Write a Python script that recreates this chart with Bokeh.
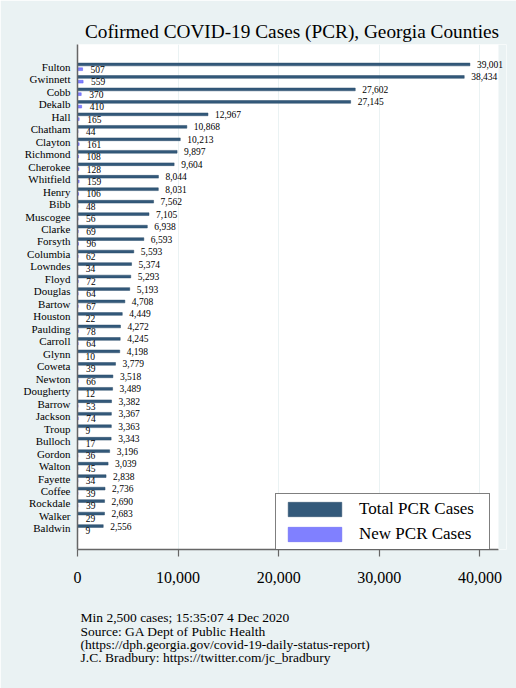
from bokeh.plotting import figure
from bokeh.models import (ColumnDataSource, Range1d, FixedTicker, NumeralTickFormatter, Title,
                          Legend, LabelSet, BoxAnnotation)
from bokeh.transform import dodge
from bokeh.embed import file_html
from bokeh.resources import INLINE

counties = ["Fulton", "Gwinnett", "Cobb", "Dekalb", "Hall", "Chatham", "Clayton", "Richmond",
            "Cherokee", "Whitfield", "Henry", "Bibb", "Muscogee", "Clarke", "Forsyth", "Columbia",
            "Lowndes", "Floyd", "Douglas", "Bartow", "Houston", "Paulding", "Carroll", "Glynn",
            "Coweta", "Newton", "Dougherty", "Barrow", "Jackson", "Troup", "Bulloch", "Gordon",
            "Walton", "Fayette", "Coffee", "Rockdale", "Walker", "Baldwin"]
total_cases = [39001, 38434, 27602, 27145, 12967, 10868, 10213, 9897,
               9604, 8044, 8031, 7562, 7105, 6938, 6593, 5593,
               5374, 5293, 5193, 4708, 4449, 4272, 4245, 4198,
               3779, 3518, 3489, 3382, 3367, 3363, 3343, 3196,
               3039, 2838, 2736, 2690, 2683, 2556]
new_cases = [507, 559, 370, 410, 165, 44, 161, 108,
             128, 159, 106, 48, 56, 69, 96, 62,
             34, 72, 64, 67, 22, 78, 64, 10,
             39, 66, 12, 53, 74, 9, 17, 36,
             45, 34, 39, 39, 29, 9]
x_ticks = [0, 10000, 20000, 30000, 40000]

title_text = "Cofirmed COVID-19 Cases (PCR), Georgia Counties"
footer_lines = ["Min 2,500 cases; 15:35:07   4 Dec 2020",
                "Source: GA Dept of Public Health",
                "(https://dph.georgia.gov/covid-19-daily-status-report)",
                "J.C. Bradbury: https://twitter.com/jc_bradbury"]

FONT = "Liberation Serif"
BG = "#EAF2F3"
NAVY = "#33597A"
NAVY_LINE = "#2A4D6A"
BLUE = "#8080FF"
BLUE_LINE = "#5A5AF0"

X_PLOT_END = 41840      # end of the white plot region
X_VIEW_END = 42635      # a little room for value labels outside the plot region

n = len(counties)
src = ColumnDataSource(dict(
    idx=list(range(n)),
    total=total_cases,
    new=new_cases,
    total_lbl=[f"{v:,}" for v in total_cases],
    new_lbl=[f"{v:,}" for v in new_cases],
))

p = figure(width=516, height=688, output_backend="svg", toolbar_location=None,
           x_range=Range1d(0, X_VIEW_END), y_range=Range1d(n - 1 + 1.69, -1.79),
           background_fill_color="white", border_fill_color=BG)
p.min_border_left = 77
p.min_border_right = 10
p.min_border_top = 44
p.min_border_bottom = 135
p.outline_line_color = None

r_total = p.hbar(y=dodge("idx", -0.19, range=p.y_range), right="total", left=0, height=0.22,
                 source=src, fill_color=NAVY, line_color=NAVY_LINE, line_width=0.5)
r_new = p.hbar(y=dodge("idx", 0.19, range=p.y_range), right="new", left=0, height=0.22,
               source=src, fill_color=BLUE, line_color=BLUE_LINE, line_width=0.5)

# background strip beyond the plot region (so labels can overflow like the original)
p.add_layout(BoxAnnotation(left=X_PLOT_END, fill_color=BG, fill_alpha=1, line_color=None))

lbl_total = LabelSet(x="total", y=dodge("idx", -0.19, range=p.y_range), text="total_lbl",
                     source=src, x_offset=7, text_baseline="middle", text_align="left",
                     text_font=FONT, text_font_size="9.5px", text_color="black")
lbl_new = LabelSet(x="new", y=dodge("idx", 0.19, range=p.y_range), text="new_lbl",
                   source=src, x_offset=8, text_baseline="middle", text_align="left",
                   text_font=FONT, text_font_size="9.5px", text_color="black")
p.add_layout(lbl_total)
p.add_layout(lbl_new)

# axes
xa = p.xaxis[0]
xa.ticker = FixedTicker(ticks=x_ticks)
xa.formatter = NumeralTickFormatter(format="0,0")
xa.bounds = (0, X_PLOT_END)
xa.major_label_text_font = FONT
xa.major_label_text_font_size = "16px"
xa.major_label_text_color = "black"
xa.major_tick_out = 7
xa.major_tick_in = 0
xa.minor_tick_out = 0
xa.minor_tick_in = 0
xa.major_label_standoff = 15
xa.axis_line_color = "#666666"
xa.axis_line_width = 1.5
xa.major_tick_line_color = "#666666"
xa.major_tick_line_width = 1.2

ya = p.yaxis[0]
ya.ticker = FixedTicker(ticks=list(range(n)))
ya.major_label_overrides = {i: c for i, c in enumerate(counties)}
ya.major_label_text_font = FONT
ya.major_label_text_font_size = "11px"
ya.major_label_text_color = "black"
ya.major_tick_out = 0
ya.major_tick_in = 0
ya.minor_tick_out = 0
ya.minor_tick_in = 0
ya.major_label_standoff = 7
ya.axis_line_color = "#666666"
ya.axis_line_width = 1.5

p.xgrid.grid_line_color = BG
p.xgrid.grid_line_width = 1
p.ygrid.grid_line_color = None

legend = Legend(items=[("Total PCR Cases", [r_total]), ("New PCR Cases", [r_new])],
                location=(198, -1))
legend.margin = 0
legend.padding = 5
legend.spacing = 5
legend.label_standoff = 11
legend.glyph_width = 67
legend.glyph_height = 18
legend.label_width = 125
legend.label_text_font = FONT
legend.label_text_font_size = "17px"
legend.label_text_color = "black"
legend.border_line_color = "black"
legend.border_line_width = 1
legend.background_fill_color = "white"
legend.background_fill_alpha = 1
p.add_layout(legend, "center")

p.title = None
p.add_layout(Title(text=title_text, align="center", text_font=FONT, text_font_size="19.3px",
                   text_font_style="normal", text_color="black", standoff=6), "above")

p.add_layout(Title(text="\n".join(footer_lines), align="left", offset=3, text_font=FONT,
                   text_font_size="13.5px", text_font_style="normal", text_color="black",
                   text_line_height=0.89, standoff=46), "below")

open("out.html", "w").write(file_html(p, INLINE))
